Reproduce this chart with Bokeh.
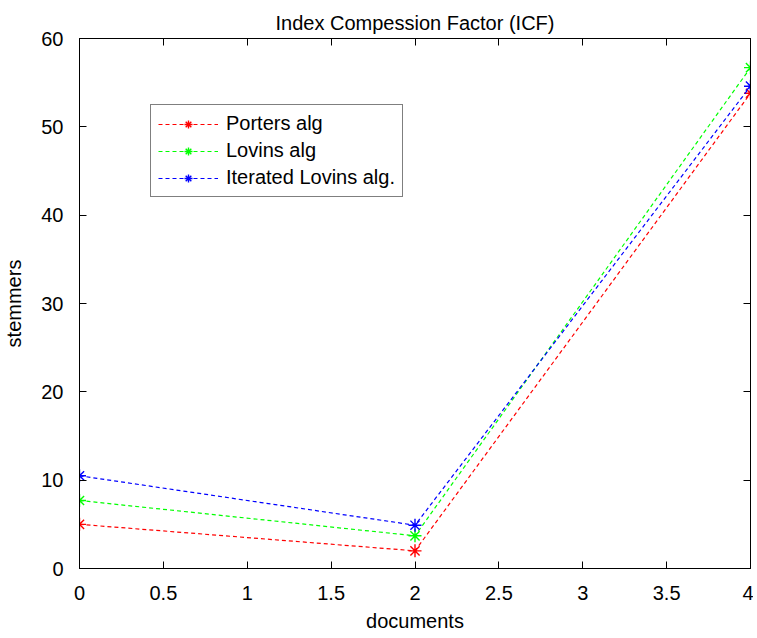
from bokeh.plotting import figure
from bokeh.models import FixedTicker, LinearAxis, Range1d, Legend, LegendItem
from bokeh.embed import file_html
from bokeh.resources import INLINE

documents = [0, 2, 4]
porters = [5.0, 2.0, 53.8]
lovins = [7.7, 3.7, 56.7]
iterated = [10.5, 4.9, 54.6]

series_names = ["Porters alg", "Lovins alg", "Iterated Lovins alg."]
series_colors = ["#FF0000", "#00FF00", "#0000FF"]

x_ticks = [0, 0.5, 1, 1.5, 2, 2.5, 3, 3.5, 4]
x_tick_labels = ["0", "0.5", "1", "1.5", "2", "2.5", "3", "3.5", "4"]
y_ticks = [0, 10, 20, 30, 40, 50, 60]
y_tick_labels = ["0", "10", "20", "30", "40", "50", "60"]

FONT = "Liberation Sans"

p = figure(width=753, height=634, output_backend="svg", toolbar_location=None,
           x_range=Range1d(0, 4), y_range=Range1d(0, 60),
           x_axis_location=None, y_axis_location=None,
           min_border_left=76, min_border_right=3, min_border_top=38, min_border_bottom=64)

p.title.text = "Index Compession Factor (ICF)"
p.title.text_font = FONT
p.title.text_font_size = "20px"
p.title.text_font_style = "normal"
p.title.align = "center"
p.title.standoff = 10
p.title.text_color = "black"

p.grid.visible = False
p.outline_line_color = "black"
p.outline_line_width = 1

def style_axis(ax, labels, show):
    ax.major_tick_in = 7
    ax.major_tick_out = 0
    ax.minor_tick_line_color = None
    ax.axis_line_color = "black"
    ax.major_tick_line_color = "black"
    ax.major_label_text_font = FONT
    ax.major_label_text_color = "black"
    if show:
        ax.major_label_text_font_size = "20px"
        ax.major_label_overrides = labels
    else:
        ax.major_label_text_font_size = "1px"
        ax.major_label_overrides = {k: "" for k in labels}
        ax.major_label_standoff = 0

xo = {t: l for t, l in zip(x_ticks, x_tick_labels)}
yo = {t: l for t, l in zip(y_ticks, y_tick_labels)}

bottom = LinearAxis(ticker=FixedTicker(ticks=x_ticks), axis_label="documents")
style_axis(bottom, xo, True)
bottom.major_label_standoff = 17
bottom.axis_label_standoff = 7
top = LinearAxis(ticker=FixedTicker(ticks=x_ticks))
style_axis(top, xo, False)
left = LinearAxis(ticker=FixedTicker(ticks=y_ticks), axis_label="stemmers")
style_axis(left, yo, True)
left.major_label_standoff = 16
left.axis_label_standoff = 13
right = LinearAxis(ticker=FixedTicker(ticks=y_ticks))
style_axis(right, yo, False)

for ax in (bottom, left):
    ax.axis_label_text_font = FONT
    ax.axis_label_text_font_size = "20px"
    ax.axis_label_text_font_style = "normal"
    ax.axis_label_text_color = "black"

p.add_layout(bottom, "below")
p.add_layout(left, "left")
p.add_layout(top, "above")
p.add_layout(right, "right")

items = []
for name, ys, col in zip(series_names, [porters, lovins, iterated], series_colors):
    ln = p.line(documents, ys, line_color=col, line_width=1.2, line_dash="4 3")
    sc = p.scatter(documents, ys, marker="asterisk", size=13, line_color=col, line_width=1.4)
    items.append(LegendItem(label=name, renderers=[ln, sc]))

legend = Legend(items=items, location=(71, 371))
legend.label_text_font = FONT
legend.label_text_font_size = "20px"
legend.label_text_color = "black"
legend.glyph_width = 60
legend.glyph_height = 20
legend.label_height = 23
legend.label_standoff = 8
legend.spacing = 4
legend.padding = 7
legend.margin = 0
legend.border_line_color = "black"
legend.border_line_width = 1.5
legend.background_fill_color = "white"
legend.background_fill_alpha = 1
p.add_layout(legend, "center")

open("out.html", "w").write(file_html(p, INLINE))
